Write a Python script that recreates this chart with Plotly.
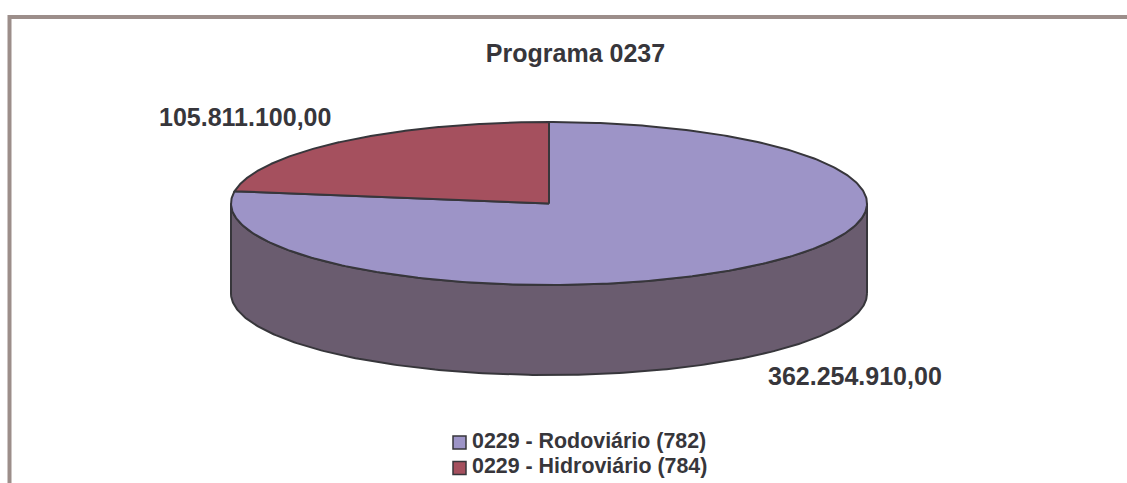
import numpy as np
import plotly.graph_objects as go

title = "Programa 0237"
categories = ["0229 - Rodoviário (782)", "0229 - Hidroviário (784)"]
values = [362254910.00, 105811100.00]
value_labels = ["362.254.910,00", "105.811.100,00"]

W, H = 1127, 483
CX, CY, RX, RY, DEPTH = 549, 203.5, 318, 81.5, 90
top_colors = ["#9D94C7", "#A5505E"]
side_color = "#6A5C6F"
edge = "#37363B"
text_color = "#37363B"
frame = "#9C8E8A"
font = "Liberation Sans, Arial, sans-serif"

def pt(theta, dy=0.0):
    return CX + RX * np.sin(theta), CY - RY * np.cos(theta) + dy

fig = go.Figure()

# side wall: visible front half of the cylinder
t = np.linspace(np.pi / 2, 3 * np.pi / 2, 241)
x_low, y_low = pt(t, DEPTH)
x_up, y_up = pt(t[::-1])
fig.add_trace(go.Scatter(x=np.r_[x_low, x_up, x_low[0]], y=np.r_[y_low, y_up, y_low[0]], mode="lines", fill="toself",
                         fillcolor=side_color, line=dict(color=edge, width=2), showlegend=False, hoverinfo="skip"))

# top faces, angles derived from the values (red slice runs counter-clockwise from 12 o'clock)
frac = np.array(values) / sum(values)
spans = [(0, 2 * np.pi * frac[0]), (-2 * np.pi * frac[1], 0)]
for i, (a, b) in enumerate(spans):
    th = np.linspace(a, b, 361)
    xs, ys = pt(th)
    fig.add_trace(go.Scatter(x=np.r_[CX, xs, CX], y=np.r_[CY, ys, CY], mode="lines", fill="toself", name=categories[i],
                             fillcolor=top_colors[i], line=dict(color=edge, width=2), showlegend=False, hoverinfo="skip"))

# legend, placed by hand so the swatch and text sit as in the reference
swatch_x, text_x, legend_y = 459.5, 472, [442.5, 468]
for i, c in enumerate(categories):
    fig.add_trace(go.Scatter(x=[swatch_x], y=[legend_y[i]], mode="markers",
                             marker=dict(symbol="square", size=13, color=top_colors[i], line=dict(color=edge, width=1.5)),
                             showlegend=False, hoverinfo="skip"))
    fig.add_trace(go.Scatter(x=[text_x], y=[legend_y[i]], mode="text", text=[c], textposition="middle right",
                             textfont=dict(family=font, size=21.4, color=text_color, weight="bold"),
                             showlegend=False, hoverinfo="skip"))

annotations = [
    dict(x=855, y=376, text=value_labels[0]),
    dict(x=244.5, y=117, text=value_labels[1]),
]
for a in annotations:
    a.update(xref="x", yref="y", showarrow=False, font=dict(family=font, size=25, color=text_color, weight="bold"))

fig.update_layout(
    width=W, height=H, margin=dict(l=0, r=0, t=0, b=0), paper_bgcolor="white", plot_bgcolor="white",
    title=dict(text=title, x=575.5 / W, xanchor="center", y=1 - 53 / H, yanchor="middle",
               font=dict(family=font, size=25, color=text_color, weight="bold")),
    xaxis=dict(range=[0, W], visible=False, fixedrange=True, domain=[0, 1]),
    yaxis=dict(range=[H, 0], visible=False, fixedrange=True, domain=[0, 1]),
    annotations=annotations,
    shapes=[
        dict(type="line", xref="x", yref="y", x0=9.5, y0=17, x1=W, y1=17, line=dict(color=frame, width=4)),
        dict(type="line", xref="x", yref="y", x0=9.5, y0=15, x1=9.5, y1=H, line=dict(color=frame, width=4)),
    ],
)
fig.write_html("out.html", config=dict(displayModeBar=False),
               post_script="document.body.style.margin='0';document.body.style.overflow='hidden';")
